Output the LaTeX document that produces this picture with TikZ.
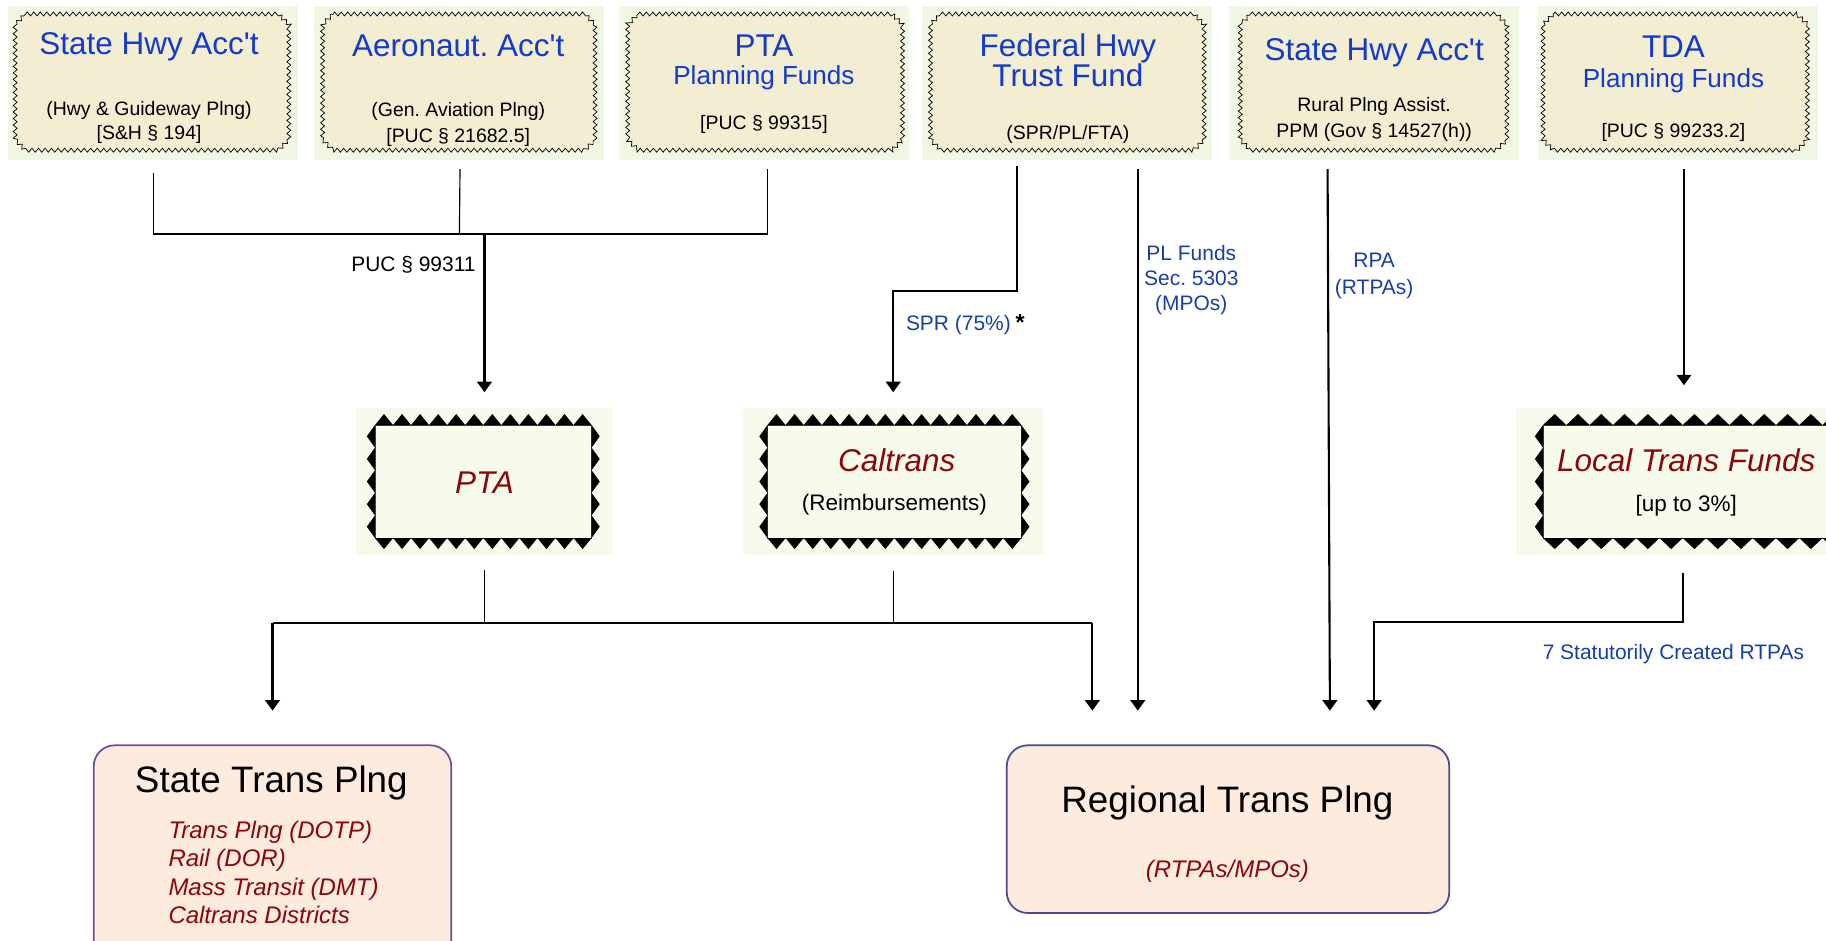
\documentclass[tikz,border=0pt]{standalone}
\usepackage{fontspec}
\setmainfont{Liberation Sans}
\usetikzlibrary{arrows.meta,decorations.pathmorphing}
\definecolor{topgreen}{RGB}{240,248,228}
\definecolor{beige}{RGB}{243,237,209}
\definecolor{midgreen}{RGB}{246,251,236}
\definecolor{peach}{RGB}{253,236,222}
\definecolor{stateborder}{RGB}{110,80,150}
\definecolor{regborder}{RGB}{75,75,145}
\definecolor{ttlblue}{RGB}{18,58,208}
\definecolor{lblblue}{RGB}{22,62,170}
\definecolor{dred}{RGB}{140,5,10}
\newcommand\fsz[1]{\fontsize{#1}{#1}\selectfont}
\newcommand\apo{\textquotesingle}
\newcommand\zigbox[4]{%
  \draw[zig] ({#1+9},#2) -- ({#3-9},#2) -- (#3,{#2+9}) -- (#3,{#4-9}) -- ({#3-9},#4) -- ({#1+9},#4) -- (#1,{#4-9}) -- (#1,{#2+9}) -- cycle;
}
\newcommand\teethbox[6]{%
  \draw[line width=0.8pt, draw=black!75, fill=midgreen] (#1,#2) rectangle (#3,#4);
  \pgfmathsetmacro\twd{(#3-#1)/#5}%
  \pgfmathsetmacro\tthh{(#4-#2)/#6}%
  \foreach \i in {1,...,#5}{%
    \fill ({#1+(\i-1)*\twd},#2) -- ({#1+(\i-0.5)*\twd},{#2-9.5}) -- ({#1+\i*\twd},#2) -- cycle;
    \fill ({#1+(\i-1)*\twd},#4) -- ({#1+(\i-0.5)*\twd},{#4+9.5}) -- ({#1+\i*\twd},#4) -- cycle;
  }%
  \foreach \i in {1,...,#6}{%
    \fill (#1,{#2+(\i-1)*\tthh}) -- ({#1-7},{#2+(\i-0.5)*\tthh}) -- (#1,{#2+\i*\tthh}) -- cycle;
    \fill (#3,{#2+(\i-1)*\tthh}) -- ({#3+7},{#2+(\i-0.5)*\tthh}) -- (#3,{#2+\i*\tthh}) -- cycle;
  }%
}
\begin{document}
\frenchspacing
\begin{tikzpicture}[x=1pt,y=-1pt,
  ttl/.style={anchor=base, yshift=-9.7pt, inner sep=0pt, text=ttlblue, font=\fsz{27}},
  ttlb/.style={anchor=base, yshift=-8.1pt, inner sep=0pt, text=ttlblue, font=\fsz{22.4}},
  sub/.style={anchor=base, yshift=-6pt, inner sep=0pt, font=\fsz{16.7}},
  topbg/.style={fill=topgreen, minimum width=249pt, minimum height=132pt, inner sep=0pt},
  zig/.style={draw=black, line width=0.6pt, fill=beige, decorate, decoration={zigzag, segment length=5.6pt, amplitude=1.7pt}},
  midbg/.style={fill=midgreen, minimum height=127pt, inner sep=0pt},
  botbox/.style={fill=peach, rounded corners=18pt, line width=1.5pt, inner sep=0pt},
  thinln/.style={line width=1pt},
  arr/.style={line width=1.8pt, -{Triangle[width=12.5pt,length=9pt]}},
  lbl/.style={anchor=base, yshift=-6.5pt, inner sep=0pt, text=lblblue, font=\fsz{18}},
  mid/.style={anchor=base, yshift=-9.7pt, inner sep=0pt, text=dred, font=\itshape\fsz{27}},
  midsub/.style={anchor=base, yshift=-7pt, inner sep=0pt, font=\fsz{19.3}},
  btl/.style={anchor=base, yshift=-11.4pt, inner sep=0pt, font=\fsz{31.6}},
  itm/.style={anchor=base west, yshift=-7.4pt, inner sep=0pt, text=dred, font=\itshape\fsz{20.6}},
  itmc/.style={anchor=base, yshift=-7.4pt, inner sep=0pt, text=dred, font=\itshape\fsz{20.6}}
]
\useasboundingbox (0,0) rectangle (1568,808);
\clip (0,0) rectangle (1568,808);

% ---------- top boxes ----------
\node[topbg] (b1) at (131.5,71) {};
\node[topbg] (b2) at (394.5,71) {};
\node[topbg] (b3) at (656,71) {};
\node[topbg] (b4) at (916,71) {};
\node[topbg] (b5) at (1180,71) {};
\node[topbg, minimum width=240pt] (b6) at (1441,71) {};
\zigbox{13}{12}{248}{129}
\zigbox{277}{12}{511}{129}
\zigbox{539}{12}{775}{129}
\zigbox{799}{12}{1034}{129}
\zigbox{1065}{12}{1294}{129}
\zigbox{1325}{12}{1552}{129}

\node[ttl] (t1a) at (128,37) {State Hwy Acc\apo t};
\node[sub] (t1b) at (128,93) {(Hwy \& Guideway Plng)};
\node[sub] (t1c) at (128,114) {[S\&H § 194]};

\node[ttl] (t2a) at (393.5,38.5) {Aeronaut. Acc\apo t};
\node[sub] (t2b) at (393.5,94) {(Gen. Aviation Plng)};
\node[sub] (t2c) at (393.5,116) {[PUC § 21682.5]};

\node[ttl] (t3a) at (656,38.5) {PTA};
\node[ttlb] (t3b) at (656,64.5) {Planning Funds};
\node[sub] (t3c) at (656,105) {[PUC § 99315]};

\node[ttl] (t4a) at (917,39) {Federal Hwy};
\node[ttl] (t4b) at (917,65) {Trust Fund};
\node[sub] (t4c) at (917,114) {(SPR/PL/FTA)};

\node[ttl] (t5a) at (1180,42) {State Hwy Acc\apo t};
\node[sub] (t5b) at (1180,90) {Rural Plng Assist.};
\node[sub] (t5c) at (1180,112) {PPM (Gov § 14527(h))};

\node[ttl] (t6a) at (1437,40) {TDA};
\node[ttlb] (t6b) at (1437,67) {Planning Funds};
\node[sub] (t6c) at (1437,112) {[PUC § 99233.2]};

% ---------- middle boxes ----------
\node[midbg, minimum width=220pt] (pta) at (416,413.5) {};
\node[midbg, minimum width=258pt] (cal) at (767,413.5) {};
\node[midbg, minimum width=300pt] (ltf) at (1452,413.5) {};
\teethbox{322}{365}{508}{462}{12}{5}
\teethbox{659}{365}{877}{462}{14}{5}
\teethbox{1325}{365}{1585}{462}{13}{5}

\node[mid] (m1) at (416,414) {PTA};
\node[mid] (m2a) at (770,395) {Caltrans};
\node[midsub] (m2b) at (768,431) {(Reimbursements)};
\node[mid] (m3a) at (1448,395) {Local Trans Funds};
\node[midsub] (m3b) at (1448,432) {[up to 3\%]};

% ---------- bottom boxes ----------
\node[botbox, draw=stateborder, minimum width=307pt, minimum height=190pt] (stp) at (234,735) {};
\node[botbox, draw=regborder, minimum width=380pt, minimum height=144pt] (rtp) at (1054.5,712) {};

\node[btl] (s1) at (233,669) {State Trans Plng};
\node[itm] (s2) at (144.5,712.5) {Trans Plng (DOTP)};
\node[itm] (s3) at (144.5,737) {Rail (DOR)};
\node[itm] (s4) at (144.5,761.5) {Mass Transit (DMT)};
\node[itm] (s5) at (144.5,786) {Caltrans Districts};

\node[btl] (r1) at (1054,686.5) {Regional Trans Plng};
\node[itmc] (r2) at (1054,746.5) {(RTPAs/MPOs)};

% ---------- connectors ----------
\coordinate (j1) at (416,201);
\draw[thinln] ([xshift=0.5pt,yshift=-11pt]b1.south) |- (j1) -| ([xshift=3pt,yshift=-8pt]b3.south);
\draw[thinln] ([xshift=0.5pt,yshift=-8pt]b2.south) -- (b2.south |- j1);
\draw[arr] (j1) -- ([yshift=13pt]pta.north);
\node[anchor=base, yshift=-6.5pt, inner sep=0pt, font=\fsz{18}] (l1) at (355,227) {PUC § 99311};

\coordinate (f1) at (767,250);
\draw[arr] ([xshift=-43pt,yshift=-5pt]b4.south) |- (f1) -- ([yshift=13pt]cal.north);
\node[lbl] (l2) at (823,277.5) {SPR (75\%)};
\node[anchor=base west, inner sep=0pt, font=\bfseries\fsz{20}] (l2s) at (872,284) {*};

\draw[arr] ([xshift=61pt,yshift=-8pt]b4.south) -- ([xshift=-77.5pt,yshift=29pt]rtp.north);
\node[lbl] (l3a) at (1023,217) {PL Funds};
\node[lbl] (l3b) at (1023,239) {Sec. 5303};
\node[lbl] (l3c) at (1023,260) {(MPOs)};

\draw[arr] ([xshift=-40pt,yshift=-8pt]b5.south) -- ([xshift=87.5pt,yshift=29pt]rtp.north);
\node[lbl] (l4a) at (1180,223) {RPA};
\node[lbl] (l4b) at (1180,246) {(RTPAs)};

\draw[arr] ([xshift=5pt,yshift=-8pt]b6.south) -- ([xshift=-6pt,yshift=19pt]ltf.north);

\coordinate (lc) at (1180,534);
\draw[arr] ([xshift=-7pt,yshift=-15pt]ltf.south) |- (lc) -- ([xshift=125.5pt,yshift=29pt]rtp.north);
\node[lbl] (l5) at (1437,560) {7 Statutorily Created RTPAs};

\coordinate (j2l) at (234,535);
\coordinate (j2r) at (938,535);
\draw[thinln] ([yshift=-12pt]pta.south) -- (pta.south |- j2l);
\draw[thinln] ([yshift=-13pt]cal.south) -- (cal.south |- j2l);
\draw[thinln] (j2l) -- (j2r);
\draw[arr] (j2l) -- ([yshift=29pt]stp.north);
\draw[arr] (j2r) -- ([xshift=-116.5pt,yshift=29pt]rtp.north);
\end{tikzpicture}
\end{document}
